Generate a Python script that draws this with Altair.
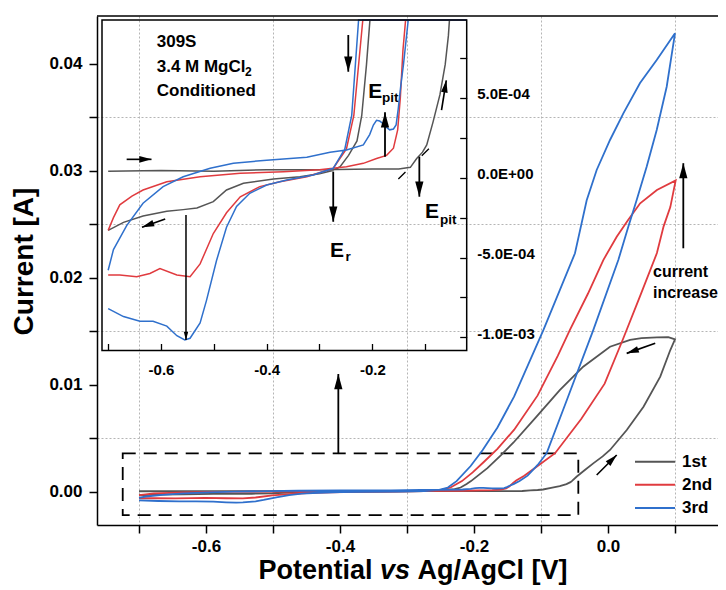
import math
import altair as alt
import pandas as pd

FONT = "Liberation Sans"

# ---------------- data ----------------
cycles = ["1st", "2nd", "3rd"]
cycle_colors = ["#555555", "#e03b3f", "#2f70cc"]

# 1st cycle: forward scan (-0.7 -> 0.1 V) and reverse scan (0.1 -> -0.7 V)
c1_fwd_V = [-0.700, -0.600, -0.500, -0.400, -0.300, -0.200, -0.150, -0.128, -0.116, -0.105,
            -0.097, -0.085, -0.072, -0.062, -0.056, -0.054, -0.047, -0.035, -0.022, -0.008,
            0.003, 0.028, 0.053, 0.078, 0.093, 0.100]
c1_fwd_I = [4.0e-5, 4.5e-5, 4.0e-5, 5.0e-5, 5.0e-5, 5.5e-5, 5.5e-5, 6.5e-5, 1.2e-4, 1.6e-4,
            2.05e-4, 3.5e-4, 5.2e-4, 7.1e-4, 8.9e-4, 9.9e-4, 1.4e-3, 2.0e-3, 2.65e-3, 3.3e-3,
            3.9e-3, 5.77e-3, 7.94e-3, 1.075e-2, 1.324e-2, 1.424e-2]
c1_rev_V = [0.100, 0.090, 0.073, 0.050, 0.033, 0.003, -0.037, -0.072, -0.107, -0.141,
            -0.160, -0.180, -0.2045, -0.211, -0.220, -0.229, -0.245, -0.261, -0.275, -0.300,
            -0.337, -0.387, -0.444, -0.476, -0.501, -0.532, -0.558, -0.589, -0.634, -0.671, -0.700]
c1_rev_I = [1.424e-2, 1.445e-2, 1.443e-2, 1.435e-2, 1.418e-2, 1.355e-2, 1.168e-2, 9.5e-3, 7.0e-3, 4.6e-3,
            3.4e-3, 2.2e-3, 9.9e-4, 7.1e-4, 3.9e-4, 2.3e-4, 1.4e-4, 6.9e-5, 4.5e-5, 2.5e-5,
            6e-6, -8e-6, -3.5e-5, -7.7e-5, -1.5e-4, -1.9e-4, -2.0e-4, -2.1e-4, -2.4e-4, -2.8e-4, -3.3e-4]

c2_fwd_V = [-0.700, -0.690, -0.678, -0.655, -0.634, -0.589, -0.526, -0.450, -0.368, -0.300,
            -0.249, -0.217, -0.192, -0.173, -0.160, -0.152, -0.147, -0.142, -0.137, -0.125,
            -0.105, -0.079, -0.040, -0.005, 0.022, 0.048, 0.073, 0.083, 0.093, 0.101]
c2_fwd_I = [-3.3e-4, -2.5e-4, -1.7e-4, -1.15e-4, -7.7e-5, -2.5e-5, 6e-6, 2.8e-5, 3.8e-5, 5.0e-5,
            6.9e-5, 9.0e-5, 1.2e-4, 1.4e-4, 1.85e-4, 3.0e-4, 5.0e-4, 8.0e-4, 1.05e-3, 1.5e-3,
            2.4e-3, 3.6e-3, 6.8e-3, 1.01e-2, 1.42e-2, 1.83e-2, 2.23e-2, 2.48e-2, 2.66e-2, 2.91e-2]
c2_rev_V = [0.101, 0.073, 0.048, 0.030, 0.013, -0.007, -0.030, -0.057, -0.075, -0.105,
            -0.140, -0.165, -0.185, -0.202, -0.218, -0.235, -0.249, -0.274, -0.324, -0.375,
            -0.413, -0.450, -0.476, -0.501, -0.526, -0.545, -0.570, -0.602, -0.621, -0.646,
            -0.678, -0.700]
c2_rev_I = [2.91e-2, 2.82e-2, 2.695e-2, 2.54e-2, 2.383e-2, 2.165e-2, 1.85e-2, 1.51e-2, 1.27e-2, 9.0e-3,
            5.8e-3, 4.0e-3, 2.8e-3, 1.8e-3, 9.9e-4, 3.9e-4, 1.8e-4, 5.9e-5, 6e-6, -2.5e-5,
            -5.6e-5, -1.2e-4, -2.2e-4, -3.5e-4, -5.4e-4, -6.2e-4, -6.1e-4, -5.7e-4, -6.0e-4, -6.2e-4,
            -6.1e-4, -6.1e-4]

c3_fwd_V = [-0.700, -0.690, -0.665, -0.634, -0.596, -0.558, -0.507, -0.463, -0.400, -0.324,
            -0.280, -0.249, -0.217, -0.205, -0.198, -0.192, -0.186, -0.180, -0.173, -0.167,
            -0.160, -0.155, -0.151, -0.146, -0.141, -0.132, -0.120, -0.105, -0.0915, -0.060,
            -0.022, 0.0154, 0.0303, 0.0428, 0.0577, 0.0727, 0.0876, 0.100]
c3_fwd_I = [-5.8e-4, -4.5e-4, -3.0e-4, -1.6e-4, -5.6e-5, 6e-6, 5.9e-5, 9.0e-5, 1.1e-4, 1.28e-4,
            1.6e-4, 1.74e-4, 2.05e-4, 2.7e-4, 3.3e-4, 3.6e-4, 3.55e-4, 3.4e-4, 3.15e-4, 3.0e-4,
            3.05e-4, 3.3e-4, 4.3e-4, 5.8e-4, 7.1e-4, 1.0e-3, 1.5e-3, 2.5e-3, 3.6e-3, 8.8e-3,
            1.51e-2, 2.165e-2, 2.477e-2, 2.726e-2, 3.037e-2, 3.38e-2, 3.785e-2, 4.284e-2]
c3_rev_V = [0.100, 0.0727, 0.0478, 0.0229, 0.003, -0.0169, -0.0318, -0.0493, -0.0965, -0.140,
            -0.165, -0.187, -0.205, -0.226, -0.239, -0.252, -0.274, -0.312, -0.362, -0.400,
            -0.432, -0.457, -0.476, -0.495, -0.514, -0.526, -0.545, -0.555, -0.570, -0.589,
            -0.615, -0.640, -0.671, -0.700]
c3_rev_I = [4.284e-2, 4.035e-2, 3.82e-2, 3.536e-2, 3.287e-2, 3.007e-2, 2.724e-2, 2.228e-2, 1.51e-2, 8.9e-3,
            6.0e-3, 3.9e-3, 2.4e-3, 9.9e-4, 3.9e-4, 1.8e-4, 5.9e-5, 1.7e-5, -1.4e-5, -4.6e-5,
            -9.8e-5, -1.8e-4, -3.1e-4, -5.2e-4, -7.7e-4, -9.1e-4, -1.006e-3, -1.017e-3, -9.9e-4, -9.3e-4,
            -9.0e-4, -9.0e-4, -8.7e-4, -8.2e-4]

# tick values
main_x_ticks = [-0.7, -0.6, -0.5, -0.4, -0.3, -0.2, -0.1, 0.0, 0.1]
main_y_ticks = [0.0, 0.005, 0.01, 0.015, 0.02, 0.025, 0.03, 0.035, 0.04]
inset_x_ticks = [-0.7, -0.6, -0.5, -0.4, -0.3, -0.2, -0.1]
inset_x_labels = [-0.6, -0.4, -0.2]
inset_y_ticks = [-1.0e-3, -7.5e-4, -5.0e-4, -2.5e-4, 0.0, 2.5e-4, 5.0e-4, 7.5e-4]
inset_y_labels = [-1.0e-3, -5.0e-4, 0.0, 5.0e-4]

# annotations, main axes units (V, A)
m_arrow_V0 = [-0.4025, 0.1124, 0.0705, -0.0169]
m_arrow_I0 = [0.00352, 0.02275, 0.01387, 0.00156]
m_arrow_V1 = [-0.4025, 0.1124, 0.0279, 0.0130]
m_arrow_I1 = [0.0110, 0.0307, 0.01293, 0.00343]
m_arrow_kind = ["big", "big", "small", "small"]
box_V = [-0.7243, -0.0443]
box_I = [-0.00218, 0.00359]
m_text = ["current", "increase"]
m_text_V = [0.0672, 0.0672]
m_text_I = [0.02009, 0.0181]

# annotations, inset axes units (V, A)
in_arrow_V0 = [-0.274, -0.176, -0.2455, -0.111, -0.069, -0.665, -0.592, -0.5527]
in_arrow_I0 = [3.8e-5, 1.32e-4, 8.94e-4, 1.32e-4, 4.24e-4, 1.15e-4, -2.59e-4, -2.34e-4]
in_arrow_V1 = [-0.274, -0.176, -0.2455, -0.111, -0.060, -0.618, -0.636, -0.5527]
in_arrow_I1 = [-2.76e-4, 4.10e-4, 6.64e-4, -1.19e-4, 6.10e-4, 1.15e-4, -3.10e-4, -1.017e-3]
in_arrow_kind = ["big", "big", "big", "big", "small", "small", "small", "thin"]
tangent_V = [-0.1507, -0.0846]
tangent_I = [-8e-6, 2.09e-4]
label_text = ["309S", "3.4 M MgCl", "Conditioned"]
label_V = [-0.6081, -0.6081, -0.6081]
label_I = [8.21e-4, 6.64e-4, 5.12e-4]
label_sub = ["2"]
label_sub_V = [-0.441]
label_sub_I = [6.37e-4]
e_text = ["E", "E", "E"]
e_V = [-0.2076, -0.1003, -0.2801]
e_I = [4.99e-4, -2.54e-4, -4.95e-4]
e_sub = ["pit", "pit", "r"]
e_sub_V = [-0.1817, -0.0719, -0.2508]
e_sub_I = [4.74e-4, -2.87e-4, -5.19e-4]

# ---------------- layout ----------------
W, H = 621, 509
MAIN_X = [-0.76269, 0.16418]
MAIN_Y = [-0.0031121, 0.044458]
INSET_X = [-0.71168, -0.02135]
INSET_Y = [-1.0827e-3, 9.881e-4]
INSET_XR = [5, 369.7]
INSET_YR = [334.5, 4]
LEGEND_YR = [445.7, 492]

rows = []
for name, fv, fi, rv, ri in [("1st", c1_fwd_V, c1_fwd_I, c1_rev_V, c1_rev_I),
                             ("2nd", c2_fwd_V, c2_fwd_I, c2_rev_V, c2_rev_I),
                             ("3rd", c3_fwd_V, c3_fwd_I, c3_rev_V, c3_rev_I)]:
    assert len(fv) == len(fi) and len(rv) == len(ri), name
    for k, (v, i) in enumerate(zip(fv + rv, fi + ri)):
        rows.append({"cycle": name, "V": v, "I": i, "k": k})
curves = pd.DataFrame(rows)


def main_px(v, i):
    return ((v - MAIN_X[0]) / (MAIN_X[1] - MAIN_X[0]) * W,
            H - (i - MAIN_Y[0]) / (MAIN_Y[1] - MAIN_Y[0]) * H)


def inset_px(v, i):
    return (INSET_XR[0] + (v - INSET_X[0]) / (INSET_X[1] - INSET_X[0]) * (INSET_XR[1] - INSET_XR[0]),
            INSET_YR[0] + (i - INSET_Y[0]) / (INSET_Y[1] - INSET_Y[0]) * (INSET_YR[1] - INSET_YR[0]))


def arrows_df(V0, I0, V1, I1, kind, px):
    out = []
    for a, b, c, d, k in zip(V0, I0, V1, I1, kind):
        p0, p1 = px(a, b), px(c, d)
        ang = math.degrees(math.atan2(p1[0] - p0[0], -(p1[1] - p0[1]))) % 360
        out.append({"V": a, "I": b, "V2": c, "I2": d, "kind": k, "ang": ang})
    return pd.DataFrame(out)


main_arrows = arrows_df(m_arrow_V0, m_arrow_I0, m_arrow_V1, m_arrow_I1, m_arrow_kind, main_px)
inset_arrows = arrows_df(in_arrow_V0, in_arrow_I0, in_arrow_V1, in_arrow_I1, in_arrow_kind, inset_px)
one = pd.DataFrame({"a": [0]})

HEAD = "M0,0L-0.6,2.2L0.6,2.2Z"

color_scale = alt.Scale(domain=cycles, range=cycle_colors)

# ---------------- main axes ----------------
xs_main = alt.Scale(domain=MAIN_X, nice=False, zero=False)
ys_main = alt.Scale(domain=MAIN_Y, nice=False, zero=False)
common_axis = dict(tickSize=8, tickWidth=1.5, tickColor="black", domainColor="black", domainWidth=1.5,
                   labelFontSize=17, labelFontWeight="bold", labelFont=FONT, labelColor="black",
                   grid=True, gridColor="#b5b5b5", gridDash=[2, 2], gridWidth=1)
ax_main_x = alt.Axis(values=main_x_ticks, title=None, labelPadding=5, labelAngle=0,
                     labelExpr="abs(round(datum.value*10)) % 2 == 0 ? (datum.value < -1e-9 ? '-' : '') + format(abs(datum.value), '.1f') : ''",
                     gridOpacity={"condition": {"test": "abs(round(datum.value*10)) % 2 == 1", "value": 1}, "value": 0},
                     **common_axis)
ax_main_y = alt.Axis(values=main_y_ticks, title="Current [A]", labelPadding=7,
                     labelExpr="round(datum.value*200) % 2 == 0 ? format(datum.value, '.2f') : ''",
                     gridOpacity={"condition": {"test": "round(datum.value*200) % 2 == 1", "value": 1}, "value": 0},
                     titleFont=FONT, titleFontSize=28, titleFontWeight="bold", titleColor="black",
                     titleX=-73, titleY=245, titleAngle=270, titleAlign="center", titleBaseline="middle",
                     **common_axis)


def mX(f):
    return alt.X(f"{f}:Q", scale=xs_main, axis=ax_main_x)


def mY(f):
    return alt.Y(f"{f}:Q", scale=ys_main, axis=ax_main_y)


main_lines = alt.Chart(curves).mark_line(strokeWidth=1.8).encode(
    x=mX("V"), y=mY("I"),
    color=alt.Color("cycle:N", scale=color_scale, legend=None),
    order="k:Q")

box = alt.Chart(pd.DataFrame({"V": [box_V[0]], "V2": [box_V[1]], "I": [box_I[0]], "I2": [box_I[1]]})).mark_rect(
    fill="transparent", stroke="black", strokeWidth=1.8, strokeDash=[13, 8]).encode(
    x=mX("V"), x2="V2:Q", y=mY("I"), y2="I2:Q")

main_shafts = alt.Chart(main_arrows).mark_rule(color="black").encode(
    x=mX("V"), y=mY("I"), x2="V2:Q", y2="I2:Q",
    strokeWidth=alt.StrokeWidth("kind:O", scale=alt.Scale(domain=["big", "small"], range=[1.8, 1.5]), legend=None))
main_heads = alt.Chart(main_arrows).mark_point(shape=HEAD, filled=True, opacity=1, color="black", strokeWidth=0).encode(
    x=mX("V2"), y=mY("I2"), angle=alt.Angle("ang:Q", scale=None),
    size=alt.Size("kind:O", scale=alt.Scale(domain=["big", "small"], range=[190, 55]), legend=None))

main_texts = alt.Chart(pd.DataFrame({"t": m_text, "V": m_text_V, "I": m_text_I})).mark_text(
    align="left", baseline="alphabetic", font=FONT, fontWeight="bold", fontSize=16, color="black").encode(
    x=mX("V"), y=mY("I"), text="t:N")

top_border = alt.Chart(one).mark_rule(color="black", strokeWidth=1.5).encode(
    x=alt.datum(MAIN_X[0]), x2=alt.datum(MAIN_X[1]), y=alt.datum(MAIN_Y[1]))

TITLE_Y = 563
title_kw = dict(font=FONT, fontWeight="bold", fontSize=27, color="black", baseline="alphabetic")
xt1 = alt.Chart(one).mark_text(text="Potential", align="right", **title_kw).encode(x=alt.value(275.5), y=alt.value(TITLE_Y))
xt2 = alt.Chart(one).mark_text(text="vs", align="center", fontStyle="italic", **title_kw).encode(x=alt.value(298), y=alt.value(TITLE_Y))
xt3 = alt.Chart(one).mark_text(text="Ag/AgCl [V]", align="left", **title_kw).encode(x=alt.value(320.5), y=alt.value(TITLE_Y))

main_group = alt.layer(box, main_lines, main_shafts, main_heads, main_texts, top_border, xt1, xt2, xt3)

# ---------------- inset ----------------
xs_in = alt.Scale(domain=INSET_X, range=INSET_XR, nice=False, zero=False, clamp=True)
ys_in = alt.Scale(domain=INSET_Y, range=INSET_YR, nice=False, zero=False, clamp=True)
ax_inA_x = alt.Axis(orient="top", offset=-(INSET_YR[0]), values=inset_x_ticks, labels=False, tickSize=7,
                    tickWidth=1.3, tickColor="black", domain=False, grid=False, title=None)
ax_inA_y = alt.Axis(orient="left", offset=-(INSET_XR[1]), values=inset_y_ticks, labels=False, tickSize=7,
                    tickWidth=1.3, tickColor="black", domain=False, grid=False, title=None)
in_lab = dict(labelFontSize=15, labelFontWeight="bold", labelFont=FONT, labelColor="black",
              ticks=False, tickSize=0, domain=False, grid=False, title=None)
ax_inB_x = alt.Axis(orient="bottom", offset=-(H - INSET_YR[0]), values=inset_x_labels, labelPadding=12, labelAngle=0,
                    labelExpr="(datum.value < 0 ? '-' : '') + format(abs(datum.value), '.1f')", **in_lab)
ax_inB_y = alt.Axis(orient="right", offset=-(W - INSET_XR[1]), values=inset_y_labels, labelPadding=10, labelOffset=-4,
                    labelExpr="(datum.value < 0 ? '-' : '') + replace(replace(format(abs(datum.value), '.1e'), 'e-', 'E-0'), 'e+', 'E+0')",
                    **in_lab)

inset_lines = alt.Chart(curves).mark_line(strokeWidth=1.5).encode(
    x=alt.X("V:Q", scale=xs_in, axis=ax_inA_x),
    y=alt.Y("I:Q", scale=ys_in, axis=ax_inA_y),
    color=alt.Color("cycle:N", scale=color_scale, legend=None),
    order="k:Q")


def iX(f):
    return alt.X(f"{f}:Q", scale=xs_in, axis=ax_inB_x)


def iY(f):
    return alt.Y(f"{f}:Q", scale=ys_in, axis=ax_inB_y)


in_shafts = alt.Chart(inset_arrows).mark_rule(color="black").encode(
    x=iX("V"), y=iY("I"), x2="V2:Q", y2="I2:Q",
    strokeWidth=alt.StrokeWidth("kind:O", scale=alt.Scale(domain=["big", "small", "thin"], range=[1.3, 1.3, 0.9]), legend=None))
in_heads = alt.Chart(inset_arrows).mark_point(shape=HEAD, filled=True, opacity=1, color="black", strokeWidth=0).encode(
    x=iX("V2"), y=iY("I2"), angle=alt.Angle("ang:Q", scale=None),
    size=alt.Size("kind:O", scale=alt.Scale(domain=["big", "small", "thin"], range=[95, 45, 95]), legend=None))
tangent = alt.Chart(pd.DataFrame({"V": [tangent_V[0]], "I": [tangent_I[0]], "V2": [tangent_V[1]], "I2": [tangent_I[1]]})).mark_rule(
    color="black", strokeWidth=1.3, strokeDash=[10, 23]).encode(x=iX("V"), y=iY("I"), x2="V2:Q", y2="I2:Q")

txt_kw = dict(align="left", baseline="alphabetic", font=FONT, fontWeight="bold", color="black")
in_labels = alt.Chart(pd.DataFrame({"t": label_text, "V": label_V, "I": label_I})).mark_text(fontSize=17, **txt_kw).encode(
    x=iX("V"), y=iY("I"), text="t:N")
in_label_sub = alt.Chart(pd.DataFrame({"t": label_sub, "V": label_sub_V, "I": label_sub_I})).mark_text(fontSize=12, **txt_kw).encode(
    x=iX("V"), y=iY("I"), text="t:N")
in_e = alt.Chart(pd.DataFrame({"t": e_text, "V": e_V, "I": e_I})).mark_text(fontSize=21, **txt_kw).encode(
    x=iX("V"), y=iY("I"), text="t:N")
in_e_sub = alt.Chart(pd.DataFrame({"t": e_sub, "V": e_sub_V, "I": e_sub_I})).mark_text(fontSize=13.5, **txt_kw).encode(
    x=iX("V"), y=iY("I"), text="t:N")
frame = alt.Chart(one).mark_rect(fill="transparent", stroke="black", strokeWidth=1.5).encode(
    x=alt.datum(INSET_X[0]), x2=alt.datum(INSET_X[1]), y=alt.datum(INSET_Y[0]), y2=alt.datum(INSET_Y[1]))

inset_b = alt.layer(in_shafts, in_heads, tangent, in_labels, in_label_sub, in_e, in_e_sub, frame)

# ---------------- legend (drawn with its own point scale) ----------------
legend_df = pd.DataFrame({"cycle": cycles})
leg_y = alt.Scale(type="point", domain=cycles, range=LEGEND_YR, padding=0)
leg_lines = alt.Chart(legend_df).mark_rule(strokeWidth=2).encode(
    y=alt.Y("cycle:N", scale=leg_y, axis=None), x=alt.value(538), x2=alt.value(578),
    color=alt.Color("cycle:N", scale=color_scale, legend=None))
leg_text = alt.Chart(legend_df).mark_text(align="left", baseline="middle", font=FONT, fontWeight="bold",
                                          fontSize=17, color="black").encode(
    y=alt.Y("cycle:N", scale=leg_y, axis=None), x=alt.value(585), text="cycle:N")
legend_layer = alt.layer(leg_lines, leg_text)

chart = alt.layer(main_group, inset_lines, inset_b, legend_layer).resolve_scale(
    x="independent", y="independent"
).properties(
    width=W, height=H,
    padding={"left": 89, "top": 8, "right": 0, "bottom": 61},
    autosize=alt.AutoSizeParams(type="none"),
).configure_view(stroke=None)

chart.save("out.html", embed_options={"renderer": "svg", "actions": False})
